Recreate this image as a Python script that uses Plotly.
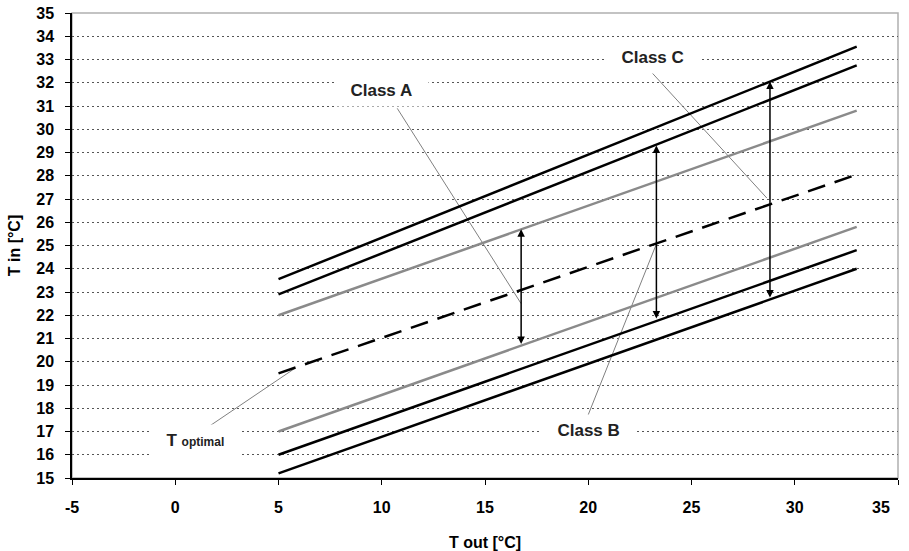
import plotly.graph_objects as go

# outdoor temperature range of the bands
t_out = [5, 33]

# indoor temperature limits at t_out[0] and t_out[1]
top_black = [23.55, 33.55]
second_black = [22.9, 32.75]
gray_up = [22.0, 30.8]
t_optimal = [19.5, 28.05]
gray_lo = [17.0, 25.8]
black_lo1 = [16.0, 24.8]
black_lo2 = [15.2, 24.0]

# double arrows (class widths)
arrow_x = [16.75, 23.3, 28.8]
arrow_lo = [20.7, 21.8, 22.7]
arrow_hi = [25.7, 29.3, 32.05]

# labels and their leader lines
labels = ['Class A', 'Class B', 'Class C', 'T <span style="font-size:12px">optimal</span>']
label_x = [10.0, 20.0, 23.1, 1.0]
label_y = [31.68, 17.05, 33.1, 16.6]
lead_x0 = [10.75, 19.9, 22.89, 1.02]
lead_y0 = [30.9, 17.5, 32.62, 16.85]
lead_x1 = [16.75, 23.28, 28.65, 5.8]
lead_y1 = [22.5, 25.02, 27.04, 19.72]

x_ticks = list(range(-5, 36, 5))
x_ticktext = [str(v) for v in x_ticks]   # plain hyphen for -5
x_ticktext[-1] = ''                      # "35" is drawn below, pulled inside the chart
y_ticks = list(range(15, 36))

fnt = dict(family='Arial, Liberation Sans', size=16, color='black', weight='bold')

fig = go.Figure()

for i in range(len(labels)):
    fig.add_trace(go.Scatter(x=[lead_x0[i], lead_x1[i]], y=[lead_y0[i], lead_y1[i]], mode='lines',
                             line=dict(color='#808080', width=1), showlegend=False, hoverinfo='skip'))

for ys, col, dash in [(top_black, 'black', 'solid'), (second_black, 'black', 'solid'),
                      (gray_up, '#8a8a8a', 'solid'), (t_optimal, 'black', '18px,10px'),
                      (gray_lo, '#8a8a8a', 'solid'), (black_lo1, 'black', 'solid'),
                      (black_lo2, 'black', 'solid')]:
    fig.add_trace(go.Scatter(x=t_out, y=ys, mode='lines', line=dict(color=col, width=2.5, dash=dash),
                             showlegend=False))

for i in range(len(arrow_x)):
    fig.add_annotation(x=arrow_x[i], y=arrow_hi[i], ax=arrow_x[i], ay=arrow_lo[i], axref='x', ayref='y',
                       xref='x', yref='y', text='', showarrow=True, arrowhead=2, arrowsize=1,
                       arrowwidth=1.5, arrowcolor='black', arrowside='end+start')

for i in range(len(labels)):
    fig.add_annotation(x=label_x[i], y=label_y[i], xref='x', yref='y',
                       text='&nbsp;&nbsp;' + labels[i] + '&nbsp;&nbsp;', showarrow=False,
                       font=dict(family='Arial, Liberation Sans', size=17, color='#222', weight='bold'),
                       bgcolor='white', borderpad=6)

# last x tick label, shifted left so it stays inside the figure
fig.add_annotation(x=x_ticks[-1], y=0, xref='x', yref='paper', text=str(x_ticks[-1]), showarrow=False,
                   font=fnt, xanchor='center', yanchor='middle', xshift=-17, yshift=-29)

# light grey frame of the plot area
fig.add_shape(type='rect', xref='paper', yref='paper', x0=0, y0=0, x1=1, y1=1,
              line=dict(color='#b0b0b0', width=1.5), layer='below')

fig.update_xaxes(range=[-5, 35], tickvals=x_ticks, ticktext=x_ticktext, showgrid=False, zeroline=False,
                 showline=True, linecolor='black', linewidth=1.5, ticks='outside', ticklen=5,
                 tickcolor='black', tickfont=fnt, ticklabelstandoff=9, automargin=False,
                 title=dict(text='T out [°C]', font=fnt, standoff=22))
fig.update_yaxes(range=[15, 35], tickvals=y_ticks, showgrid=True, gridcolor='#555',
                 griddash='2px,3px', gridwidth=1, zeroline=False, showline=True, linecolor='black',
                 linewidth=1.5, ticks='outside', ticklen=5, tickcolor='black', tickfont=fnt,
                 ticklabelstandoff=8, automargin=False, ticklabeloverflow='allow',
                 title=dict(text='T in [°C]', font=fnt, standoff=12))

fig.update_layout(width=909, height=551, margin=dict(l=72, r=11, t=13, b=73),
                  plot_bgcolor='white', paper_bgcolor='white')

# drop the default page margin so the figure fills the window
fig.write_html("out.html", config={'displayModeBar': False},
               post_script="document.body.style.margin='0';")
